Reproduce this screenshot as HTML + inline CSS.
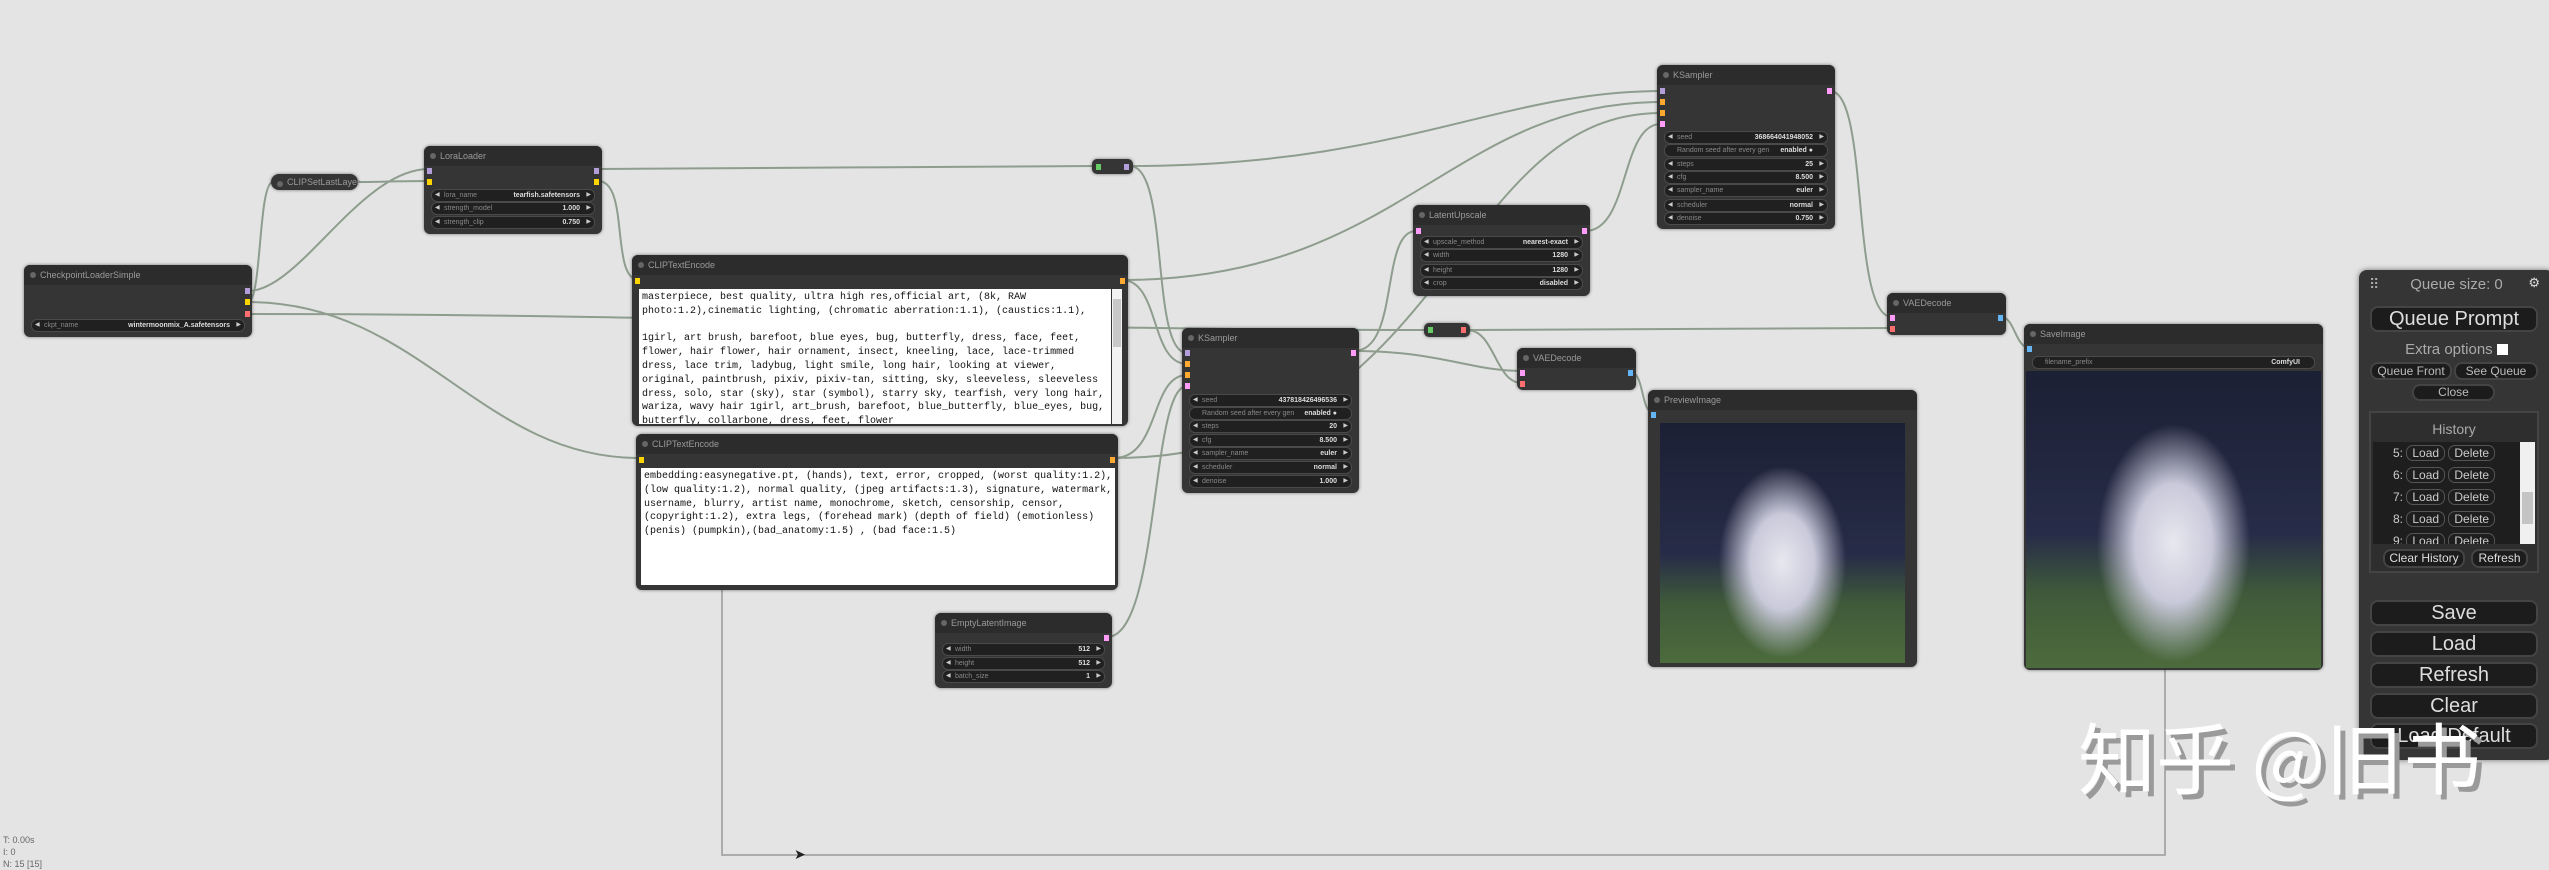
<!DOCTYPE html>
<html><head><meta charset="utf-8"><style>
body{margin:0;width:2549px;height:865px;background:#e4e4e4;overflow:hidden;position:relative;font-family:"Liberation Sans",sans-serif}
.n{position:absolute;background:#353535;border-radius:6px;box-shadow:0 0 3px rgba(0,0,0,.5)}
.t{position:absolute;left:0;right:0;top:0;height:20px;background:#2c2c2c;border-radius:6px 6px 0 0;color:#9a9a9a;font-size:9px;line-height:20px;padding-left:16px}
.t:before{content:"";position:absolute;left:6px;top:7px;width:6px;height:6px;border-radius:3px;background:#666}
.w{position:absolute;left:7px;right:7px;height:11px;border-radius:6px;background:#202020;border:1px solid #4a4a4a;font-size:7px;color:#888;line-height:11px;padding:0 12px}
.w:before{content:"◀";position:absolute;left:3px;color:#ccc;font-size:6px}
.w:after{content:"▶";position:absolute;right:3px;color:#ccc;font-size:6px}
.w.nt:before,.w.nt:after{content:""}
.w b{position:absolute;right:14px;color:#ddd;font-weight:bold}
.s{position:absolute;width:5px;height:6px}
.ta{position:absolute;background:#fff;font-family:"Liberation Mono",monospace;font-size:10px;line-height:13.8px;color:#111;white-space:pre;overflow:hidden;padding:2px 3px}
.img{position:absolute;background:radial-gradient(ellipse 26% 40% at 50% 58%,#e8e8f0 0%,#c9c9da 50%,rgba(0,0,0,0) 100%),linear-gradient(#1c2035 0%,#272c48 55%,#3f5a3a 75%,#4c6b3c 100%)}
.b{position:absolute;background:#1c1c1c;border:2px solid #444;border-radius:8px;color:#ddd;text-align:center;box-sizing:border-box}
.r span{border:1px solid #555;border-radius:7px;padding:0 5px}
</style></head><body>
<svg width="2549" height="865" style="position:absolute;left:0;top:0" fill="none" stroke="#8e9d8e" stroke-width="2">
<path d="M248 291 C300 291 360 169 429 169"/>
<path d="M248 302 C262 302 258 182 273 182"/>
<path d="M358 182 C380 182 400 181 429 181"/>
<path d="M248 302 C420 302 480 458 639 458"/>
<path d="M248 314 C700 314 1000 330 1424 330"/>
<path d="M1467 330 C1700 330 1800 328 1892 328"/>
<path d="M1467 330 C1495 330 1495 383 1522 383"/>
<path d="M598 169 C800 169 900 166 1095 166"/>
<path d="M1130 166 C1170 166 1150 353 1187 353"/>
<path d="M1130 166 C1400 166 1500 91 1661 91"/>
<path d="M598 181 C630 181 610 280 639 280"/>
<path d="M1122 280 C1160 280 1150 364 1187 364"/>
<path d="M1122 280 C1400 280 1450 102 1661 102"/>
<path d="M1114 458 C1160 458 1150 375 1187 375"/>
<path d="M1114 458 C1450 458 1450 113 1661 113"/>
<path d="M1107 637 C1160 637 1150 386 1187 386"/>
<path d="M1354 351 C1400 351 1380 231 1416 231"/>
<path d="M1354 351 C1440 351 1470 371 1522 371"/>
<path d="M1585 231 C1630 231 1620 124 1661 124"/>
<path d="M1830 91 C1870 91 1850 317 1892 317"/>
<path d="M1630 372 C1645 372 1640 413 1654 413"/>
<path d="M2001 317 C2015 317 2015 348 2030 348"/>
<path d="M722 590 L722 855 L2165 855 L2165 670" stroke="#999" stroke-width="1.5"/>
</svg>

<div class="n" style="left:24px;top:265px;width:228px;height:72px"><div class="t">CheckpointLoaderSimple</div>
<div class="s" style="right:2px;top:23px;background:#b39ddb"></div><div class="s" style="right:2px;top:34px;background:#ffd500"></div><div class="s" style="right:2px;top:46px;background:#ff6e6e"></div>
<div class="w" style="top:54px">ckpt_name<b>wintermoonmix_A.safetensors</b></div></div>

<div class="n" style="left:271px;top:174px;width:87px;height:16px;border-radius:8px"><div class="t" style="height:16px;line-height:16px;background:none">CLIPSetLastLayer</div></div>

<div class="n" style="left:424px;top:146px;width:178px;height:88px"><div class="t">LoraLoader</div>
<div class="s" style="left:3px;top:22px;background:#b39ddb"></div><div class="s" style="left:3px;top:33px;background:#ffd500"></div>
<div class="s" style="right:3px;top:22px;background:#b39ddb"></div><div class="s" style="right:3px;top:33px;background:#ffd500"></div>
<div class="w" style="top:43px">lora_name<b>tearfish.safetensors</b></div>
<div class="w" style="top:56px">strength_model<b>1.000</b></div>
<div class="w" style="top:70px">strength_clip<b>0.750</b></div></div>

<div class="n" style="left:632px;top:255px;width:496px;height:171px"><div class="t">CLIPTextEncode</div>
<div class="s" style="left:3px;top:23px;background:#ffd500"></div><div class="s" style="right:3px;top:23px;background:#ffa931"></div>
<div class="ta" style="left:7px;top:34px;width:466px;height:131px">masterpiece, best quality, ultra high res,official art, (8k, RAW
photo:1.2),cinematic lighting, (chromatic aberration:1.1), (caustics:1.1),

1girl, art brush, barefoot, blue eyes, bug, butterfly, dress, face, feet,
flower, hair flower, hair ornament, insect, kneeling, lace, lace-trimmed
dress, lace trim, ladybug, light smile, long hair, looking at viewer,
original, paintbrush, pixiv, pixiv-tan, sitting, sky, sleeveless, sleeveless
dress, solo, star (sky), star (symbol), starry sky, tearfish, very long hair,
wariza, wavy hair 1girl, art_brush, barefoot, blue_butterfly, blue_eyes, bug,
butterfly, collarbone, dress, feet, flower</div>
<div style="position:absolute;left:480px;top:34px;width:10px;height:135px;background:#f2f2f2"><div style="margin:10px 1px;height:48px;background:#c8c8c8"></div></div></div>

<div class="n" style="left:636px;top:434px;width:482px;height:156px"><div class="t">CLIPTextEncode</div>
<div class="s" style="left:3px;top:23px;background:#ffd500"></div><div class="s" style="right:3px;top:23px;background:#ffa931"></div>
<div class="ta" style="left:5px;top:34px;width:468px;height:113px">embedding:easynegative.pt, (hands), text, error, cropped, (worst quality:1.2),
(low quality:1.2), normal quality, (jpeg artifacts:1.3), signature, watermark,
username, blurry, artist name, monochrome, sketch, censorship, censor,
(copyright:1.2), extra legs, (forehead mark) (depth of field) (emotionless)
(penis) (pumpkin),(bad_anatomy:1.5) , (bad face:1.5)</div></div>

<div class="n" style="left:1092px;top:159px;width:41px;height:15px;border-radius:5px"><div class="s" style="left:4px;top:5px;background:#6c6"></div><div class="s" style="right:4px;top:5px;background:#b39ddb"></div></div>
<div class="n" style="left:1424px;top:323px;width:46px;height:14px;border-radius:5px"><div class="s" style="left:4px;top:4px;background:#6c6"></div><div class="s" style="right:4px;top:4px;background:#ff6e6e"></div></div>

<div class="n" style="left:1182px;top:328px;width:177px;height:165px"><div class="t">KSampler</div>
<div class="s" style="left:3px;top:22px;background:#b39ddb"></div><div class="s" style="left:3px;top:33px;background:#ffa931"></div><div class="s" style="left:3px;top:44px;background:#ffa931"></div><div class="s" style="left:3px;top:55px;background:#ff9cf9"></div>
<div class="s" style="right:3px;top:22px;background:#ff9cf9"></div>
<div class="w" style="top:66px">seed<b>437818426496536</b></div>
<div class="w nt" style="top:79px">Random seed after every gen<b>enabled ●</b></div>
<div class="w" style="top:92px">steps<b>20</b></div>
<div class="w" style="top:106px">cfg<b>8.500</b></div>
<div class="w" style="top:119px">sampler_name<b>euler</b></div>
<div class="w" style="top:133px">scheduler<b>normal</b></div>
<div class="w" style="top:147px">denoise<b>1.000</b></div></div>

<div class="n" style="left:1657px;top:65px;width:178px;height:164px"><div class="t">KSampler</div>
<div class="s" style="left:3px;top:23px;background:#b39ddb"></div><div class="s" style="left:3px;top:34px;background:#ffa931"></div><div class="s" style="left:3px;top:45px;background:#ffa931"></div><div class="s" style="left:3px;top:56px;background:#ff9cf9"></div>
<div class="s" style="right:3px;top:23px;background:#ff9cf9"></div>
<div class="w" style="top:66px">seed<b>368664041948052</b></div>
<div class="w nt" style="top:79px">Random seed after every gen<b>enabled ●</b></div>
<div class="w" style="top:93px">steps<b>25</b></div>
<div class="w" style="top:106px">cfg<b>8.500</b></div>
<div class="w" style="top:119px">sampler_name<b>euler</b></div>
<div class="w" style="top:134px">scheduler<b>normal</b></div>
<div class="w" style="top:147px">denoise<b>0.750</b></div></div>

<div class="n" style="left:1413px;top:205px;width:177px;height:91px"><div class="t">LatentUpscale</div>
<div class="s" style="left:3px;top:23px;background:#ff9cf9"></div><div class="s" style="right:3px;top:23px;background:#ff9cf9"></div>
<div class="w" style="top:31px">upscale_method<b>nearest-exact</b></div>
<div class="w" style="top:44px">width<b>1280</b></div>
<div class="w" style="top:59px">height<b>1280</b></div>
<div class="w" style="top:72px">crop<b>disabled</b></div></div>

<div class="n" style="left:935px;top:613px;width:177px;height:75px"><div class="t">EmptyLatentImage</div>
<div class="s" style="right:3px;top:22px;background:#ff9cf9"></div>
<div class="w" style="top:30px">width<b>512</b></div>
<div class="w" style="top:44px">height<b>512</b></div>
<div class="w" style="top:57px">batch_size<b>1</b></div></div>

<div class="n" style="left:1517px;top:348px;width:119px;height:42px"><div class="t">VAEDecode</div>
<div class="s" style="left:3px;top:22px;background:#ff9cf9"></div><div class="s" style="left:3px;top:33px;background:#ff6e6e"></div><div class="s" style="right:3px;top:22px;background:#64b5f6"></div></div>
<div class="n" style="left:1887px;top:293px;width:119px;height:42px"><div class="t">VAEDecode</div>
<div class="s" style="left:3px;top:22px;background:#ff9cf9"></div><div class="s" style="left:3px;top:33px;background:#ff6e6e"></div><div class="s" style="right:3px;top:22px;background:#64b5f6"></div></div>

<div class="n" style="left:1648px;top:390px;width:269px;height:277px"><div class="t">PreviewImage</div>
<div class="s" style="left:3px;top:22px;background:#64b5f6"></div>
<div class="img" style="left:12px;top:33px;width:245px;height:240px"></div></div>

<div class="n" style="left:2024px;top:324px;width:299px;height:346px"><div class="t">SaveImage</div>
<div class="s" style="left:3px;top:22px;background:#64b5f6"></div>
<div class="w nt" style="top:32px;left:8px;right:8px">filename_prefix<b>ComfyUI</b></div>
<div class="img" style="left:2px;top:47px;width:295px;height:297px"></div></div>

<div style="position:absolute;left:2359px;top:270px;width:195px;height:490px;background:#353535;border-radius:8px;box-shadow:0 0 6px rgba(0,0,0,.5)">
<div style="position:absolute;left:10px;top:6px;color:#aaa;font-size:14px">⠿</div>
<div style="position:absolute;left:0;right:0;top:6px;text-align:center;color:#aaa;font-size:15px">Queue size: 0</div>
<div style="position:absolute;right:14px;top:5px;color:#ddd;font-size:13px">⚙</div>
<div class="b" style="left:11px;top:36px;width:168px;height:26px;font-size:20px;line-height:22px">Queue Prompt</div>
<div style="position:absolute;left:0;right:0;top:71px;text-align:center;color:#aaa;font-size:15px">Extra options <span style="display:inline-block;width:11px;height:11px;background:#fff;vertical-align:-1px"></span></div>
<div class="b" style="left:11px;top:92px;width:82px;height:18px;font-size:12px;line-height:14px;color:#bbb">Queue Front</div>
<div class="b" style="left:95px;top:92px;width:84px;height:18px;font-size:12px;line-height:14px;color:#bbb">See Queue</div>
<div class="b" style="left:53px;top:114px;width:83px;height:17px;font-size:12px;line-height:13px;color:#bbb">Close</div>
<div style="position:absolute;left:10px;top:141px;width:170px;height:162px;border:2px solid #444;background:#2e2e2e;box-sizing:border-box">
<div style="text-align:center;color:#aaa;font-size:14px;margin-top:8px">History</div>
<div style="position:absolute;left:2px;top:29px;width:162px;height:102px;background:#1e1e1e;color:#ccc;font-size:12px;overflow:hidden">
<div style="position:absolute;right:0;top:0;width:15px;height:102px;background:#f0f0f0"><div style="margin:50px 2px 0;height:32px;background:#c4c4c4"></div></div>
<div class="r" style="position:absolute;left:20px;top:0;line-height:22px;width:120px">
<div>5: <span>Load</span> <span>Delete</span></div>
<div>6: <span>Load</span> <span>Delete</span></div>
<div>7: <span>Load</span> <span>Delete</span></div>
<div>8: <span>Load</span> <span>Delete</span></div>
<div>9: <span>Load</span> <span>Delete</span></div>
</div></div>
<div class="b" style="left:12px;top:136px;width:82px;height:19px;font-size:12px;line-height:15px">Clear History</div>
<div class="b" style="left:100px;top:136px;width:57px;height:19px;font-size:12px;line-height:15px">Refresh</div>
</div>
<div class="b" style="left:11px;top:330px;width:168px;height:26px;font-size:20px;line-height:22px">Save</div>
<div class="b" style="left:11px;top:361px;width:168px;height:26px;font-size:20px;line-height:22px">Load</div>
<div class="b" style="left:11px;top:392px;width:168px;height:26px;font-size:20px;line-height:22px">Refresh</div>
<div class="b" style="left:11px;top:423px;width:168px;height:26px;font-size:20px;line-height:22px">Clear</div>
<div class="b" style="left:11px;top:453px;width:168px;height:26px;font-size:20px;line-height:22px">Load Default</div>
</div>

<div style="position:absolute;left:2078px;top:710px;font-family:'Noto Sans CJK SC',sans-serif;font-size:78px;color:#fff;text-shadow:5px 5px 0 #9a9a9a;white-space:nowrap;line-height:90px">知乎 @旧书</div>

<div style="position:absolute;left:3px;top:834px;font-size:9px;color:#666;line-height:12px">T: 0.00s<br>I: 0<br>N: 15 [15]</div>
<div style="position:absolute;left:794px;top:846px;font-size:14px;color:#222">➤</div>
</body></html>
